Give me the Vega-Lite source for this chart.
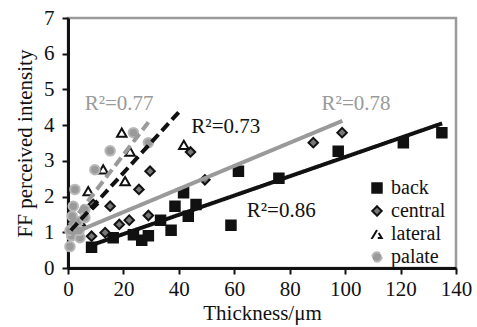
{
  "$schema": "https://vega.github.io/schema/vega-lite/v6.json",
  "width": 388,
  "height": 250,
  "autosize": "none",
  "padding": {"left": 68, "top": 18, "right": 21, "bottom": 59},
  "background": "white",
  "config": {
    "font": "Liberation Serif",
    "view": {"stroke": "#9a9a9a", "strokeWidth": 2.5},
    "legend": {"labelFont": "Liberation Serif", "labelFontSize": 20},
    "text": {"font": "Liberation Serif", "fontSize": 21}
  },
  "datasets": {
    "points": [
      {"series": "back", "x": 8.5, "y": 0.58},
      {"series": "back", "x": 16.3, "y": 0.85},
      {"series": "back", "x": 23.6, "y": 0.93},
      {"series": "back", "x": 26.6, "y": 0.78},
      {"series": "back", "x": 29.0, "y": 0.9},
      {"series": "back", "x": 33.4, "y": 1.34},
      {"series": "back", "x": 37.2, "y": 1.06},
      {"series": "back", "x": 38.6, "y": 1.73},
      {"series": "back", "x": 41.7, "y": 2.11},
      {"series": "back", "x": 43.4, "y": 1.45},
      {"series": "back", "x": 46.2, "y": 1.78},
      {"series": "back", "x": 58.8, "y": 1.2},
      {"series": "back", "x": 61.5, "y": 2.71},
      {"series": "back", "x": 76.1, "y": 2.51},
      {"series": "back", "x": 97.5, "y": 3.27},
      {"series": "back", "x": 121.0, "y": 3.51},
      {"series": "back", "x": 134.9, "y": 3.79},
      {"series": "central", "x": 8.5, "y": 0.89},
      {"series": "central", "x": 9.1, "y": 1.78},
      {"series": "central", "x": 13.4, "y": 0.99},
      {"series": "central", "x": 15.2, "y": 1.73},
      {"series": "central", "x": 18.5, "y": 1.22},
      {"series": "central", "x": 22.1, "y": 1.34},
      {"series": "central", "x": 25.6, "y": 2.2},
      {"series": "central", "x": 29.6, "y": 2.71},
      {"series": "central", "x": 29.0, "y": 1.47},
      {"series": "central", "x": 44.2, "y": 3.25},
      {"series": "central", "x": 49.4, "y": 2.47},
      {"series": "central", "x": 88.5, "y": 3.51},
      {"series": "central", "x": 98.9, "y": 3.79},
      {"series": "lateral", "x": 2.0, "y": 1.0},
      {"series": "lateral", "x": 4.5, "y": 1.3},
      {"series": "lateral", "x": 7.3, "y": 2.15},
      {"series": "lateral", "x": 12.7, "y": 2.76},
      {"series": "lateral", "x": 19.4, "y": 3.79},
      {"series": "lateral", "x": 20.6, "y": 2.43},
      {"series": "lateral", "x": 22.4, "y": 3.26},
      {"series": "lateral", "x": 41.8, "y": 3.45},
      {"series": "palate", "x": 0.7, "y": 0.6},
      {"series": "palate", "x": 1.3, "y": 0.9},
      {"series": "palate", "x": 0.7, "y": 1.05},
      {"series": "palate", "x": 2.5, "y": 1.13},
      {"series": "palate", "x": 4.3, "y": 0.85},
      {"series": "palate", "x": 3.5, "y": 1.3},
      {"series": "palate", "x": 1.5, "y": 1.45},
      {"series": "palate", "x": 1.9, "y": 1.73},
      {"series": "palate", "x": 2.5, "y": 2.2},
      {"series": "palate", "x": 6.1, "y": 1.41},
      {"series": "palate", "x": 6.1, "y": 1.64},
      {"series": "palate", "x": 4.0, "y": 1.05},
      {"series": "palate", "x": 9.7, "y": 2.75},
      {"series": "palate", "x": 15.2, "y": 3.28},
      {"series": "palate", "x": 23.6, "y": 3.79},
      {"series": "palate", "x": 29.0, "y": 3.51}
    ],
    "fits": [
      {"series": "back", "x": 7, "y": 0.6},
      {"series": "back", "x": 135, "y": 4.05},
      {"series": "central", "x": 1, "y": 0.95},
      {"series": "central", "x": 99, "y": 4.12},
      {"series": "lateral", "x": 1, "y": 1.05},
      {"series": "lateral", "x": 41, "y": 4.45},
      {"series": "palate", "x": 0.5, "y": 1.2},
      {"series": "palate", "x": 29, "y": 4.08}
    ],
    "labels": [
      {"series": "back", "text": "R²=0.86", "x": 64.5, "y": 1.42},
      {"series": "central", "text": "R²=0.78", "x": 91.5, "y": 4.42},
      {"series": "lateral", "text": "R²=0.73", "x": 44.5, "y": 3.77},
      {"series": "palate", "text": "R²=0.77", "x": 6.0, "y": 4.42}
    ]
  },
  "encoding": {
    "x": {
      "field": "x", "type": "quantitative",
      "scale": {"domain": [0, 140], "nice": false},
      "axis": {
        "values": [0, 20, 40, 60, 80, 100, 120, 140], "title": "Thickness/μm",
        "grid": false, "domainColor": "#111111", "domainWidth": 3, "tickColor": "#111111", "tickWidth": 2, "tickSize": 6,
        "labelOverlap": false, "labelFlush": false, "labelFont": "Liberation Serif", "labelFontSize": 21, "labelColor": "#111111", "labelPadding": 4,
        "titleFont": "Liberation Serif", "titleFontSize": 21, "titleFontWeight": "normal", "titleColor": "#111111", "titlePadding": 3
      }
    },
    "y": {
      "field": "y", "type": "quantitative",
      "scale": {"domain": [0, 7], "nice": false},
      "axis": {
        "values": [0, 1, 2, 3, 4, 5, 6, 7], "title": "FF perceived intensity",
        "grid": false, "domainColor": "#111111", "domainWidth": 3, "tickColor": "#111111", "tickWidth": 2, "tickSize": 6,
        "labelOverlap": false, "labelFont": "Liberation Serif", "labelFontSize": 21, "labelColor": "#111111", "labelPadding": 8,
        "titleFont": "Liberation Serif", "titleFontSize": 21, "titleFontWeight": "normal", "titleColor": "#111111", "titlePadding": 8
      }
    }
  },
  "layer": [
    {
      "data": {"name": "points"},
      "mark": {"type": "point", "strokeWidth": 2, "opacity": 1},
      "encoding": {
        "shape": {
          "field": "series", "type": "nominal",
          "scale": {"domain": ["back", "central", "lateral", "palate"], "range": ["square", "diamond", "triangle-up", "circle"]},
          "legend": {
            "title": null, "orient": "none", "legendX": 299, "legendY": 160,
            "labelFont": "Liberation Serif", "labelFontSize": 20, "labelColor": "#111111",
            "symbolSize": 90, "symbolStrokeWidth": 2, "rowPadding": 3, "labelOffset": 4, "padding": 0
          }
        },
        "fill": {
          "field": "series", "type": "nominal",
          "scale": {"domain": ["back", "central", "lateral", "palate"], "range": ["#111111", "#777777", "#ffffff", "#9a9a9a"]}
        },
        "stroke": {
          "field": "series", "type": "nominal",
          "scale": {"domain": ["back", "central", "lateral", "palate"], "range": ["#111111", "#111111", "#111111", "#b8b8b8"]}
        },
        "size": {"value": 90}
      }
    },
    {
      "data": {"name": "fits"},
      "mark": {"type": "line", "strokeWidth": 4, "strokeCap": "butt"},
      "encoding": {
        "detail": {"field": "series"},
        "color": {
          "field": "series", "type": "nominal",
          "scale": {"domain": ["back", "central", "lateral", "palate"], "range": ["#111111", "#9a9a9a", "#111111", "#9a9a9a"]},
          "legend": null
        },
        "strokeDash": {
          "field": "series", "type": "nominal",
          "scale": {"domain": ["back", "central", "lateral", "palate"], "range": [[1, 0], [1, 0], [10, 5], [10, 5]]},
          "legend": null
        }
      }
    },
    {
      "data": {"name": "labels"},
      "mark": {"type": "text", "align": "left", "baseline": "alphabetic", "font": "Liberation Serif", "fontSize": 21},
      "encoding": {
        "text": {"field": "text"},
        "color": {"field": "series", "type": "nominal", "legend": null}
      }
    }
  ]
}
